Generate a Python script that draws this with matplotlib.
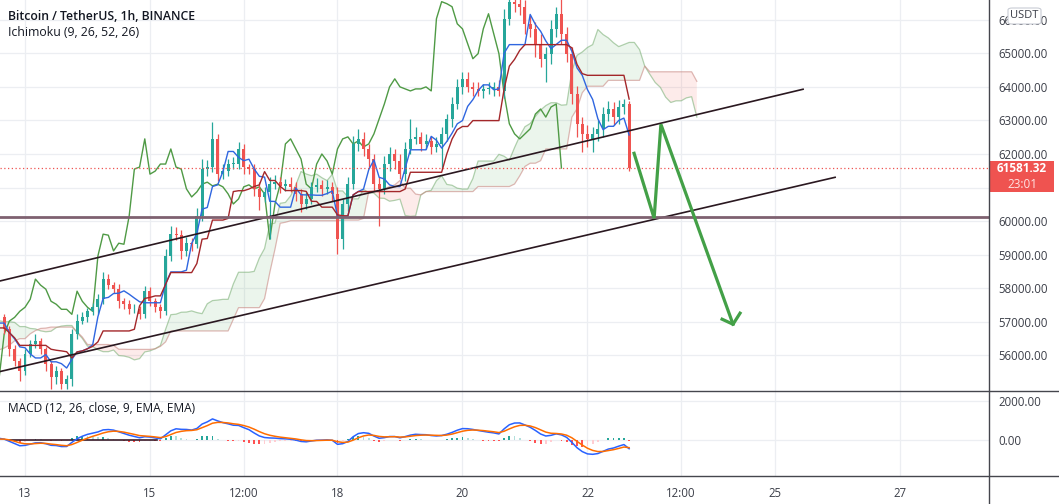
import numpy as np
import pandas as pd
import matplotlib
matplotlib.use("Agg")
import matplotlib.pyplot as plt
from matplotlib.patches import Rectangle, FancyBboxPatch
from matplotlib.lines import Line2D

plt.rcParams['font.family'] = ['Open Sans', 'DejaVu Sans']

# 2h candles, time in hours from the 13th 00:00; the first 40 bars lie left of the view
pre_close = [55400, 55250, 55100, 55300, 55600, 55850, 55700, 55950, 56200, 56450,
             56300, 56600, 56850, 56700, 56950, 57100, 56900, 57050, 57200, 57000,
             56850, 57100, 57250, 57050, 56900, 57150, 57000, 56800, 56950, 57100,
             56750, 56500, 56650, 56400, 56600, 56850, 56700, 56950, 57200, 57050]
pre_up = [120, 90, 150, 100, 180, 130, 90, 160, 110, 140, 100, 170, 120, 90, 150, 110, 130, 100, 160, 120,
          90, 140, 110, 170, 100, 130, 150, 90, 120, 160, 100, 140, 110, 90, 150, 120, 130, 100, 170, 110]
pre_dn = [150, 110, 200, 90, 120, 160, 100, 130, 90, 150, 120, 100, 140, 110, 90, 130, 160, 100, 120, 150,
          90, 110, 140, 100, 130, 90, 120, 160, 100, 110, 150, 130, 90, 140, 100, 120, 110, 150, 90, 130]

closes_vis = [57130, 56780, 56180, 55820, 55520, 56030, 56330, 56420, 56180, 55730,
              55340, 55520, 55130, 55280, 56630, 57020, 57130, 57310, 57430, 57670,
              58270, 58090, 57970, 57610, 57520, 57370, 57370, 57220, 57910, 57610,
              57430, 57310, 58960, 59610, 59580, 59110, 59340, 59310, 60150, 61550,
              61610, 62450, 61400, 61490, 61700, 61700, 62150, 61610, 61550, 60960,
              60720, 60870, 61100, 61160, 61050, 61100, 61020, 60810, 60510, 60660,
              61020, 61080, 60960, 61020, 60810, 59460, 60510, 61100, 62300, 62450,
              62150, 61850, 61100, 60960, 61700, 62000, 61790, 61400, 62150, 62450,
              62510, 62300, 62390, 62210, 62300, 62600, 63050, 63490, 64000, 64240,
              64000, 63940, 63880, 63940, 63940, 64000, 63880, 66030, 66540, 66480,
              66390, 65880, 65730, 65280, 64840, 64990, 65730, 66180, 65580, 64990,
              63790, 62900, 62600, 62450, 62600, 62750, 63190, 63340, 63100, 63400,
              63490, 61581.32]
up_vis = [150, 100, 80, 120, 100, 150, 120, 200, 100, 80,
          100, 150, 100, 120, 150, 200, 150, 100, 120, 150,
          200, 150, 100, 150, 100, 120, 150, 100, 150, 120,
          100, 100, 200, 250, 200, 150, 200, 150, 250, 300,
          200, 500, 150, 200, 150, 200, 200, 150, 100, 150,
          200, 150, 200, 200, 150, 150, 200, 150, 150, 200,
          150, 200, 150, 200, 150, 200, 150, 200, 250, 300,
          200, 150, 150, 200, 250, 200, 150, 200, 200, 600,
          300, 150, 200, 150, 200, 200, 150, 200, 250, 200,
          200, 150, 200, 150, 200, 150, 200, 300, 300, 300,
          250, 200, 250, 200, 300, 200, 250, 200, 450, 200,
          200, 250, 200, 250, 200, 250, 200, 250, 200, 200,
          150, 100]
dn_vis = [100, 150, 200, 150, 300, 100, 80, 100, 150, 200,
          350, 200, 150, 150, 200, 150, 100, 150, 100, 200,
          150, 100, 120, 200, 150, 150, 100, 150, 100, 150,
          150, 200, 100, 150, 150, 250, 150, 200, 100, 150,
          200, 150, 200, 150, 150, 150, 150, 200, 150, 200,
          400, 150, 1400, 150, 200, 150, 150, 200, 250, 150,
          150, 150, 200, 150, 200, 450, 300, 200, 150, 200,
          200, 250, 200, 1100, 150, 200, 250, 150, 200, 150,
          150, 200, 150, 200, 150, 750, 200, 250, 150, 200,
          150, 200, 150, 200, 150, 200, 150, 200, 200, 250,
          250, 300, 250, 400, 250, 690, 300, 250, 300, 250,
          300, 400, 540, 250, 390, 200, 250, 200, 250, 200,
          200, 90]

# drawings (time in hours, price)
upper_t, upper_p = [-9.6, 298.8], [58215, 63930]
lower_t, lower_p = [-9.6, 311.1], [55515, 61305]
level_price = 60120
arrow_t = [233.9, 241.6, 244.2, 271.9]
arrow_p = [62020, 60085, 62885, 56925]
head_t = [267.7, 271.9, 274.6]
head_p = [57075, 56925, 57255]
macd_line_t = [-5.8, 50.7]
last_price = 61581.32

price_ticks = [56000, 57000, 58000, 59000, 60000, 62000, 63000, 64000, 65000, 66000]
tick_hours = [0, 48, 84, 120, 168, 216, 252, 288, 336]
tick_names = ['13', '15', '12:00', '18', '20', '22', '12:00', '25', '27']

closes = np.array(pre_close + closes_vis, dtype=float)
up_w = np.array(pre_up + up_vis, dtype=float)
dn_w = np.array(pre_dn + dn_vis, dtype=float)
t = -90 + 2 * np.arange(len(closes))
opens = np.r_[closes[0], closes[:-1]]
highs = np.maximum(opens, closes) + up_w
lows = np.minimum(opens, closes) - dn_w

# ichimoku on 2h bars (9/26/52 hours -> 5/13/26 bars)
hi, lo = pd.Series(highs), pd.Series(lows)
def midpoint(n):
    return ((hi.rolling(n).max() + lo.rolling(n).min()) / 2).values
conv = midpoint(5)
base = midpoint(13)
span_a = (conv + base) / 2
span_b = midpoint(26)

# macd (12/26/9 hours on 2h bars)
cs = pd.Series(closes)
macd = (cs.ewm(span=6, adjust=False).mean() - cs.ewm(span=13, adjust=False).mean()).values
signal = pd.Series(macd).ewm(span=4.56, adjust=False).mean().values
hist = macd - signal

W, H = 1059, 504
fig = plt.figure(figsize=(W / 100, H / 100), dpi=100)
right = 989 / W
ax = fig.add_axes([0, 1 - 391 / H, right, 391 / H])
ax2 = fig.add_axes([0, 1 - 476 / H, right, 85 / H])

xmin, xmax = -9.6, (989 - 25) / 2.604
grid_c = '#eceef2'
txt_c = '#3b3e48'

for a in (ax, ax2):
    a.set_xlim(xmin, xmax)
    for s in a.spines.values():
        s.set_visible(False)
    a.yaxis.tick_right()
    a.tick_params(axis='y', length=0, pad=7, labelsize=8.3, labelcolor=txt_c)
    a.set_xticks(tick_hours)
    a.grid(True, color=grid_c, lw=0.9)
    a.set_axisbelow(True)

ax.tick_params(axis='x', length=0, labelbottom=False)
ax2.tick_params(axis='x', length=0, pad=8, labelsize=8.3, labelcolor=txt_c)
ax2.set_xticklabels(tick_names)

ax.set_ylim(54935, 66590)
ax.set_yticks(price_ticks)
ax.yaxis.set_major_formatter(matplotlib.ticker.FormatStrFormatter('%.2f'))
for p in (61000,):
    ax.axhline(p, color=grid_c, lw=0.9, zorder=0)

# cloud
ts = t + 26
ax.fill_between(ts, span_a, span_b, where=span_a >= span_b, interpolate=True,
                color='#43a047', alpha=0.1, lw=0)
ax.fill_between(ts, span_a, span_b, where=span_a < span_b, interpolate=True,
                color='#f44336', alpha=0.1, lw=0)
ax.plot(ts, span_a, color='#7fb27a', lw=0.9, alpha=0.6)
ax.plot(ts, span_b, color='#c98a84', lw=0.9, alpha=0.6)

# candles
up = closes >= opens
col = np.where(up, '#26a69a', '#ef5350')
vis = t > xmin - 4
ax.vlines(t[vis], lows[vis], highs[vis], colors=col[vis], lw=0.9, zorder=3)
body_lo = np.minimum(opens, closes)
body_h = np.maximum(np.abs(closes - opens), 20)
ax.bar(t[vis], body_h[vis], bottom=body_lo[vis], width=1.15, color=col[vis], zorder=3, lw=0)

# ichimoku lines
ax.plot(t - 26, closes, color='#4f9a45', lw=1, zorder=2)
ax.plot(t, conv, color='#2f66e0', lw=1, zorder=4)
ax.plot(t, base, color='#a3272a', lw=1, zorder=4)

# drawings
ax.plot(upper_t, upper_p, color='#2a1820', lw=1.2, zorder=5)
ax.plot(lower_t, lower_p, color='#2a1820', lw=1.2, zorder=5)
ax.axhline(level_price, color='#7e6170', lw=2, zorder=5)
ax.axhline(last_price, color='#ef5350', lw=0.9, ls=(0, (1, 2)), zorder=5)
ax.plot(arrow_t, arrow_p, color='#43a047', lw=2.3, zorder=6, solid_joinstyle='miter')
ax.plot(head_t, head_p, color='#43a047', lw=2.3, zorder=6)

# macd pane
ax2.set_ylim(-1846, 2513)
ax2.set_yticks([0, 2000])
ax2.yaxis.set_major_formatter(matplotlib.ticker.FormatStrFormatter('%.2f'))
prev = np.r_[hist[0], hist[:-1]]
hcol = np.where(hist >= 0, np.where(hist > prev, '#26a69a', '#b2dfdb'),
                np.where(hist < prev, '#ff5252', '#ffcdd2'))
ax2.bar(t, hist, width=0.7, color=hcol, lw=0)
ax2.plot(macd_line_t, [0, 0], color='#3b1c2a', lw=1.2)
ax2.plot(t, macd, color='#2962ff', lw=1.1)
ax2.plot(t, signal, color='#ff6d00', lw=1.1)

# pane borders
sep = '#45464d'
fig.add_artist(Line2D([right, right], [0, 1], color=sep, lw=1))
fig.add_artist(Line2D([0, 1], [1 - 391 / H] * 2, color=sep, lw=1))
fig.add_artist(Line2D([0, 1], [1 - 476 / H] * 2, color=sep, lw=1))

# labels
fig.text(8 / W, 1 - 17 / H, 'Bitcoin / TetherUS, 1h, BINANCE', fontsize=8.8,
         weight='semibold', color='#131722', va='center')
fig.text(8 / W, 1 - 33 / H, 'Ichimoku (9, 26, 52, 26)', fontsize=8.8,
         color='#131722', va='center')
fig.text(8 / W, 1 - 408 / H, 'MACD (12, 26, close, 9, EMA, EMA)', fontsize=8.6,
         color='#131722', va='center')

# last price tag and currency box
fig.add_artist(Rectangle((989 / W, 1 - 192 / H), 65 / W, 31 / H, color='#ef5350', lw=0))
fig.text(1022 / W, 1 - 169 / H, '61581.32', fontsize=8.5, weight='bold', color='white',
         ha='center', va='center')
fig.text(1022 / W, 1 - 184 / H, '23:01', fontsize=8.5, color='#ffe3e3',
         ha='center', va='center')
fig.add_artist(FancyBboxPatch((1008 / W, 1 - 24 / H), 33 / W, 16 / H,
                              boxstyle='round,pad=0,rounding_size=0.004',
                              facecolor='white', edgecolor='#c9ccd4', lw=0.8))
fig.text(1024.5 / W, 1 - 16 / H, 'USDT', fontsize=8, color='#3b3e48', ha='center', va='center')

fig.savefig('out.png', dpi=100)
